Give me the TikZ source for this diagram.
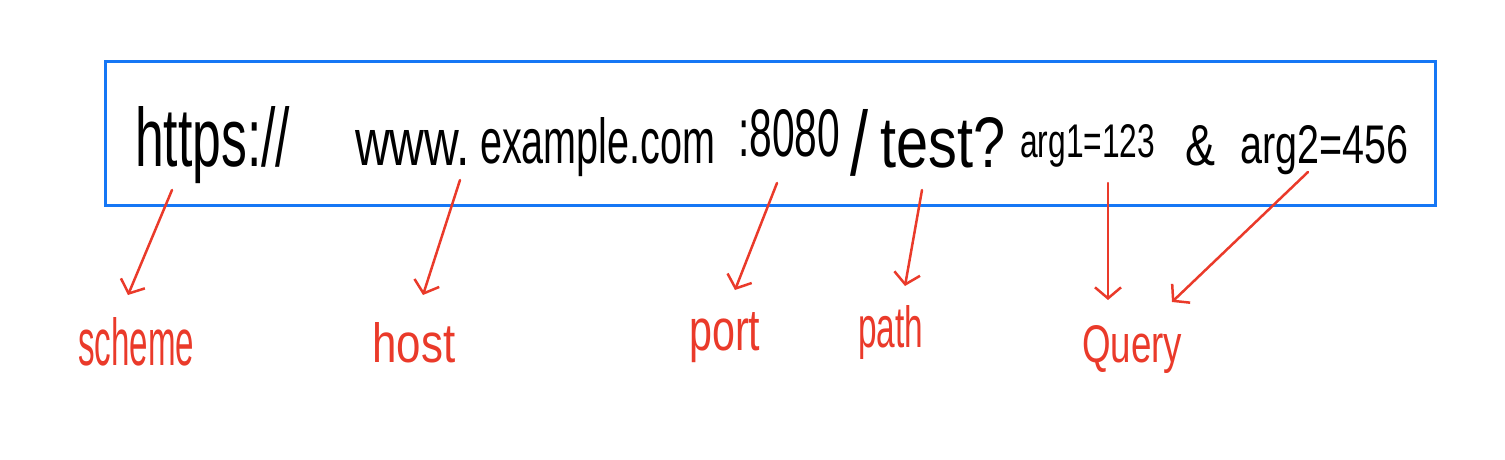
\documentclass[tikz,border=0pt]{standalone}
\usepackage{fontspec}
\setmainfont{Liberation Sans}
\usetikzlibrary{arrows.meta}
\definecolor{boxblue}{RGB}{22,119,245}
\definecolor{lblred}{RGB}{234,58,42}
\newcommand{\hw}[3]{\resizebox{#1pt}{#2pt}{#3}}
\begin{document}
\begin{tikzpicture}[x=1pt,y=-1pt,
  urltext/.style={anchor=base west, inner sep=0pt, text=black},
  lbl/.style={anchor=base west, inner sep=0pt, text=lblred},
  urlbox/.style={draw=boxblue, line width=3pt, inner sep=0pt},
  pointer/.style={draw=lblred, line width=2.5pt, line cap=round,
    -{Straight Barb[length=11pt,width=26pt]}}]
\useasboundingbox (0,0) rectangle (1505,460);
\node[urlbox, minimum width=1330pt, minimum height=143pt] (box) at (770,133.5) {};
% URL pieces
\node[urltext] (u1) at (135,166) {\hw{155}{60}{https://}};
\node[urltext] (u2) at (355,165) {\hw{115}{35}{www.}};
\node[urltext] (u3) at (480,163) {\hw{235}{46}{example.com}};
\node[urltext] (u4) at (738,157) {\hw{102}{47}{:8080}};
\node[urltext] (u5) at (850,175) {\hw{18}{66}{/}};
\node[urltext] (u6) at (880,167) {\hw{125}{50}{test?}};
\node[urltext] (u7) at (1020,157) {\hw{135}{33}{arg1=123}};
\node[urltext] (u8) at (1185,165) {\hw{30}{40}{\&}};
\node[urltext] (u9) at (1240,163) {\hw{168}{38}{arg2=456}};
% labels
\node[lbl] (scheme) at (78,365) {\hw{116}{48}{scheme}};
\node[lbl] (host) at (372,362) {\hw{83}{40}{host}};
\node[lbl] (port) at (689,350) {\hw{71}{38}{port}};
\node[lbl] (path) at (858,347) {\hw{65}{42}{path}};
\node[lbl] (query) at (1082,362) {\hw{100}{37}{Query}};
% connector ends
\coordinate (s1) at (172,190); \coordinate (t1) at (128,295);
\coordinate (s2) at (460,180); \coordinate (t2) at (423,295);
\coordinate (s3) at (777,183); \coordinate (t3) at (735,290);
\coordinate (s4) at (922,190); \coordinate (t4) at (905,286);
\coordinate (s5) at (1108,183); \coordinate (t5) at (1108,300);
\coordinate (s6) at (1308,172); \coordinate (t6) at (1172,302);
\draw[pointer] (s1) -- (t1);
\draw[pointer] (s2) -- (t2);
\draw[pointer] (s3) -- (t3);
\draw[pointer] (s4) -- (t4);
\draw[pointer] (s5) -- (t5);
\draw[pointer] (s6) -- (t6);
\end{tikzpicture}
\end{document}
